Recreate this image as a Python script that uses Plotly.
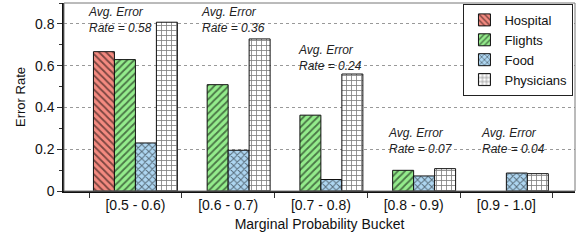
import plotly.graph_objects as go

buckets = ["[0.5 - 0.6)", "[0.6 - 0.7)", "[0.7 - 0.8)", "[0.8 - 0.9)", "[0.9 - 1.0]"]
hospital = [0.667, None, None, None, None]
flights = [0.629, 0.509, 0.363, 0.099, None]
food = [0.230, 0.195, 0.055, 0.072, 0.086]
physicians = [0.808, 0.728, 0.560, 0.107, 0.083]
avg_rates = ["0.58", "0.36", "0.24", "0.07", "0.04"]

# annotation placement (offset from bucket centre, y in data units)
ann_dx = [-0.53, -0.31, -0.27, -0.30, -0.30]
ann_y = [0.82, 0.82, 0.637, 0.24, 0.24]

series = [
    ("Hospital", hospital, "#f48a80", "\\", 5, 0.35),
    ("Flights", flights, "#94ec8c", "/", 5, 0.35),
    ("Food", food, "#aed6f1", "x", 5, 0.35),
    ("Physicians", physicians, "#ffffff", "+", 5, 0.3),
]

FONT = "Liberation Sans, Arial, Helvetica, sans-serif"

fig = go.Figure()
for name, vals, col, shp, sz, sol in series:
    fig.add_trace(go.Bar(
        x=buckets, y=vals, name=name,
        marker=dict(color=col, line=dict(color="#111111", width=1),
                    pattern=dict(shape=shp, fgcolor="#000000", bgcolor=col,
                                 size=sz, solidity=sol)),
    ))

for i, r in enumerate(avg_rates):
    fig.add_annotation(x=i + ann_dx[i], y=ann_y[i], xref="x", yref="y",
                       text=f"<i>Avg. Error<br>Rate = {r}</i>",
                       showarrow=False, xanchor="left", yanchor="middle",
                       align="left", font=dict(size=12, color="#222222", family=FONT))

fig.add_shape(type="rect", xref="paper", yref="paper", x0=0, y0=0, x1=1, y1=1,
              line=dict(color="#777777", width=1), layer="above")

fig.update_layout(
    width=582, height=240,
    margin=dict(l=64, r=7, t=3, b=49, autoexpand=False),
    paper_bgcolor="white", plot_bgcolor="white",
    barmode="group", bargap=0.095, bargroupgap=0,
    font=dict(family=FONT, size=14, color="#111111"),
    showlegend=True,
    legend=dict(x=0.997, y=0.995, xanchor="right", yanchor="top",
                bgcolor="white", bordercolor="#222222", borderwidth=1,
                font=dict(size=13), tracegroupgap=0, itemwidth=30),
    xaxis=dict(type="category", range=[-0.77, 4.74], tickson="boundaries",
               ticks="outside", ticklen=5, tickcolor="#333333",
               showline=True, linecolor="#111111", linewidth=1.5,
               showgrid=False, tickfont=dict(size=14), automargin=False,
               title=dict(text="Marginal Probability Bucket", font=dict(size=14), standoff=8)),
    yaxis=dict(range=[0, 0.9], dtick=0.2, tick0=0,
               ticks="outside", ticklen=5, tickcolor="#333333",
               minor=dict(dtick=0.1, ticks="outside", ticklen=3, tickcolor="#333333", showgrid=False),
               showline=True, linecolor="#111111", linewidth=1.5,
               showgrid=True, gridcolor="#999999", griddash="dot", gridwidth=1,
               zeroline=False, tickfont=dict(size=14), automargin=False,
               title=dict(text="Error Rate", font=dict(size=13), standoff=6)),
)

fig.write_html("out.html", config={"displayModeBar": False},
               post_script="document.body.style.margin='0';")
